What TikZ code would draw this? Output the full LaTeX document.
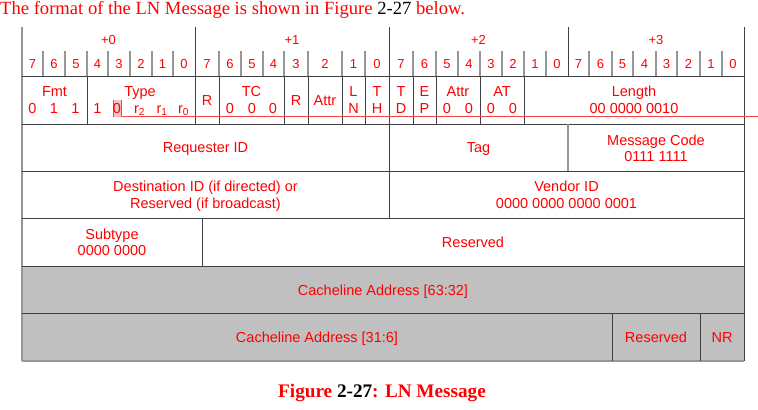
\documentclass[tikz,border=0pt]{standalone}
\usepackage{fontspec}
\setmainfont{Liberation Serif}
\setsansfont{Liberation Sans}
\definecolor{txtred}{RGB}{255,0,0}
\definecolor{gridline}{RGB}{64,64,64}
\definecolor{tickline}{RGB}{150,150,150}
\definecolor{cellgray}{RGB}{192,192,192}
\definecolor{markred}{RGB}{240,70,70}
\definecolor{markpink}{RGB}{246,196,196}
\tikzset{
  lbl/.style={text=txtred, font=\sffamily\fontsize{14.5bp}{16bp}\selectfont, inner sep=0pt, anchor=base},
  hdr/.style={text=txtred, font=\sffamily\fontsize{13bp}{14bp}\selectfont, inner sep=0pt, anchor=base},
  gridln/.style={draw=gridline, line width=0.9bp},
  tickln/.style={draw=tickline, line width=1.1bp},
  edgeln/.style={draw=tickline, line width=1.6bp},
  graycell/.style={fill=cellgray, draw=none},
  markln/.style={draw=markred, line width=0.9bp},
}
\begin{document}
\begin{tikzpicture}[x=1bp,y=-1bp]
\useasboundingbox (0,0) rectangle (758,409);
% intro text
\node[anchor=base west, inner sep=0pt, text=txtred, font=\fontsize{18.6bp}{22bp}\selectfont] (intro) at (0,14)
  {The format of the LN Message is shown in Figure \textcolor{black}{2-27} below.};
% gray rows
\fill[graycell] (22,266) rectangle (744,361);
% header: byte labels
\node[hdr] (b0) at (108.5,44) {+0};
\node[hdr] (b1) at (292,44) {+1};
\node[hdr] (b2) at (478.5,44) {+2};
\node[hdr] (b3) at (656,44) {+3};
% bit ticks
\foreach \x in {43,65,87,108,130,152,173,219,241,263,284,308,342,365,413,436,458,480,502,524,546,589,612,633,656,677,700,722}
  \draw[tickln] (\x,51) -- (\x,76);
% byte boundaries
\foreach \x in {195,389,568}
  \draw[gridln] (\x,27) -- (\x,76);
% bit numbers
\foreach \a/\b/\n [count=\i] in {22/43/7,43/65/6,65/87/5,87/108/4,108/130/3,130/152/2,152/173/1,173/195/0,
  195/219/7,219/241/6,241/263/5,263/284/4,284/308/3,308/342/2,342/365/1,365/389/0,
  389/413/7,413/436/6,436/458/5,458/480/4,480/502/3,502/524/2,524/546/1,546/568/0,
  568/589/7,589/612/6,612/633/5,633/656/4,656/677/3,677/700/2,700/722/1,722/744/0}
  \node[hdr] (bit\i) at ({(\a+\b)/2},68) {\n};
% outer edges
\draw[edgeln] (22,27) -- (22,361);
\draw[gridln] (744,27) -- (744,361);
% horizontal row lines
\foreach \y in {76,124,171,218.5,266,313}
  \draw[gridln] (22,\y) -- (744,\y);
\draw[edgeln] (22,361) -- (744,361);
% row 1 verticals
\foreach \x in {87,195,219,284,308,342,365,389,413,436,480,524}
  \draw[gridln] (\x,76) -- (\x,124);
% row 2 verticals
\draw[gridln] (389,124) -- (389,171);
\draw[tickln] (568,124) -- (568,171);
% row 3
\draw[gridln] (389,171) -- (389,218.5);
% row 4
\draw[gridln] (202,218.5) -- (202,266);
% row 6
\draw[gridln] (612,313) -- (612,361);
\draw[gridln] (700,313) -- (700,361);
% highlight mark under the "0"
\fill[markpink] (113,100) rectangle (121,117);
\draw[markln] (113,100) -- (113,117);
% row 1 labels
\node[lbl] (fmt) at (54.5,96.5) {Fmt};
\node[lbl] (fmt7) at (32.5,113) {0};
\node[lbl] (fmt6) at (54,113) {1};
\node[lbl] (fmt5) at (75.5,113) {1};
\node[lbl] (type) at (140,96.5) {Type};
\node[lbl] (type4) at (97.5,113) {1};
\node[lbl] (type3) at (117,113) {0};
\node[lbl] (type2) at (139.5,113) {r\textsubscript{2}};
\node[lbl] (type1) at (162,113) {r\textsubscript{1}};
\node[lbl] (type0) at (183.5,113) {r\textsubscript{0}};
\node[lbl] (r1) at (207,105.5) {R};
\node[lbl] (tc) at (251.5,96.5) {TC};
\node[lbl] (tc6) at (230,113) {0};
\node[lbl] (tc5) at (252,113) {0};
\node[lbl] (tc4) at (273,113) {0};
\node[lbl] (r2) at (296,105.5) {R};
\node[lbl] (attr1) at (325,105.5) {Attr};
\node[lbl] (ln1) at (353.5,96.5) {L};
\node[lbl] (ln2) at (353.5,113) {N};
\node[lbl] (th1) at (377,96.5) {T};
\node[lbl] (th2) at (377,113) {H};
\node[lbl] (td1) at (401,96.5) {T};
\node[lbl] (td2) at (401,113) {D};
\node[lbl] (ep1) at (424.5,96.5) {E};
\node[lbl] (ep2) at (424.5,113) {P};
\node[lbl] (attr2) at (458,96.5) {Attr};
\node[lbl] (attr2a) at (447,113) {0};
\node[lbl] (attr2b) at (469,113) {0};
\node[lbl] (at) at (502,96.5) {AT};
\node[lbl] (ata) at (491,113) {0};
\node[lbl] (atb) at (513,113) {0};
\node[lbl] (len) at (634,96.5) {Length};
\node[lbl] (lenv) at (634,113) {00 0000 0010};
% red mark line
\coordinate (markstart) at (121,100);
\coordinate (markcorner) at (121,116.7);
\coordinate (markend) at (758,116.7);
\draw[markln] (markstart) -- (markcorner) -- (markend);
% row 2
\node[lbl] (req) at (205.5,152.5) {Requester ID};
\node[lbl] (tag) at (478.5,152.5) {Tag};
\node[lbl] (mc) at (656,145) {Message Code};
\node[lbl] (mcv) at (656,161) {0111 1111};
% row 3
\node[lbl] (dest1) at (205.5,191.5) {Destination ID (if directed) or};
\node[lbl] (dest2) at (205.5,208) {Reserved (if broadcast)};
\node[lbl] (vend) at (566.5,191.5) {Vendor ID};
\node[lbl] (vendv) at (566.5,208) {0000 0000 0000 0001};
% row 4
\node[lbl] (sub) at (112,239.5) {Subtype};
\node[lbl] (subv) at (112,255.5) {0000 0000};
\node[lbl] (res1) at (473,247.5) {Reserved};
% row 5
\node[lbl] (ca1) at (383,295) {Cacheline Address [63:32]};
% row 6
\node[lbl] (ca2) at (317,342) {Cacheline Address [31:6]};
\node[lbl] (res2) at (656,342) {Reserved};
\node[lbl] (nr) at (722,342) {NR};
% caption
\node[anchor=base, inner sep=0pt, text=txtred, font=\bfseries\fontsize{19.2bp}{22bp}\selectfont] (cap) at (382,397)
  {Figure \textcolor{black}{2-27}: LN Message};
\end{tikzpicture}
\end{document}
